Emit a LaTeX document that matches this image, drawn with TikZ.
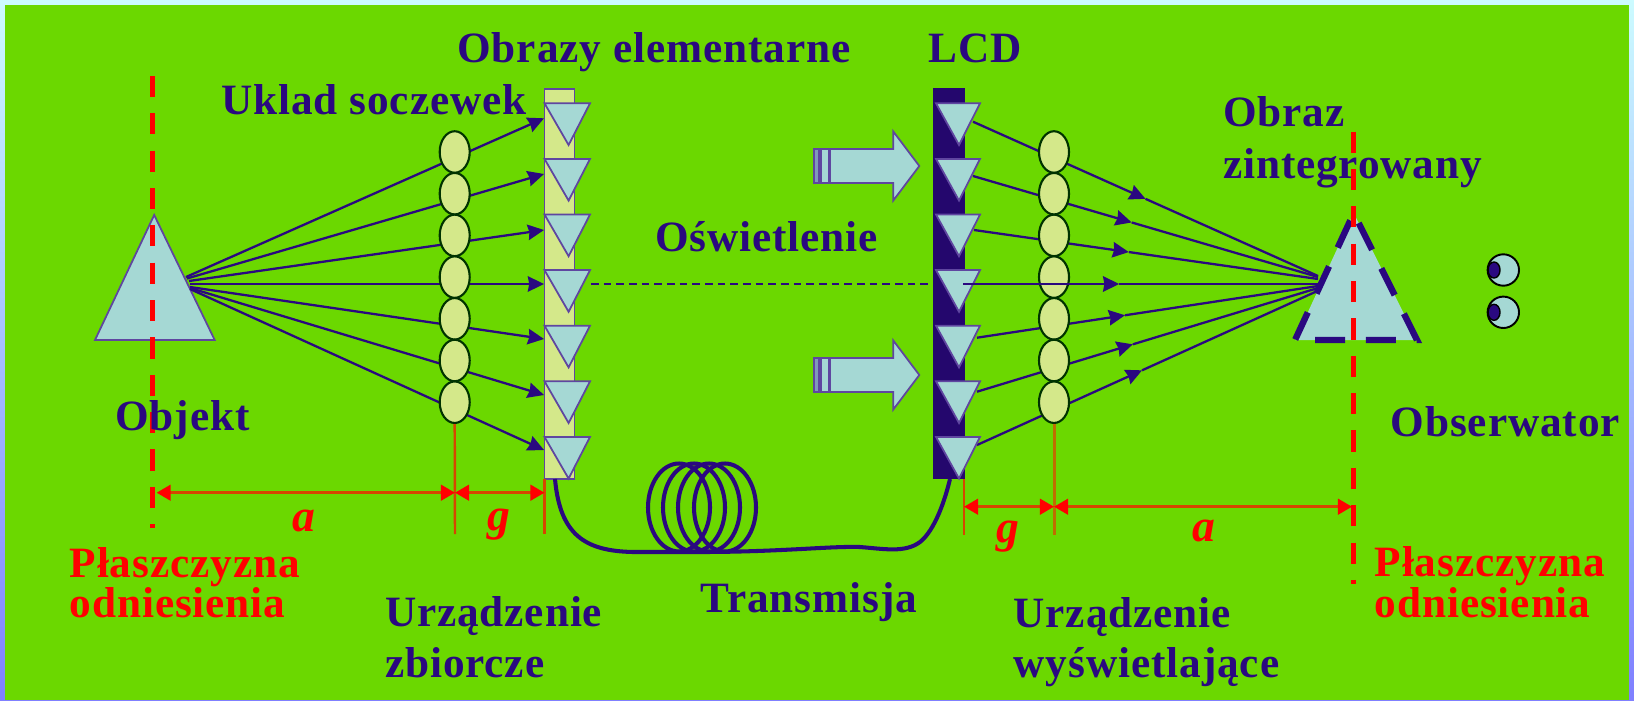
\documentclass[tikz,border=0pt]{standalone}
\usepackage{fontspec}
\setmainfont{Liberation Serif}
\usetikzlibrary{arrows.meta,shapes.geometric}
\definecolor{ink}{RGB}{42,8,128}
\definecolor{plate}{RGB}{107,216,0}
\definecolor{pale}{RGB}{165,216,212}
\definecolor{lime}{RGB}{212,232,138}
\definecolor{rule}{RGB}{214,70,0}
\definecolor{ochre}{RGB}{190,110,0}

\begin{document}
\begin{tikzpicture}[x=.01cm,y=-.01cm,line cap=butt,line join=miter,
    txt/.style={anchor=base west,inner sep=0pt,yshift=-.4pt,font=\fontsize{12.3}{14}\selectfont\bfseries\addfontfeature{LetterSpace=2.1},text=ink},
    redtxt/.style={txt,text=red},
    dimtxt/.style={redtxt,font=\fontsize{13}{15}\selectfont\bfseries\itshape},
    lens/.style={ellipse,draw=black!80!green,fill=lime,line width=.6pt,minimum width=.3cm,minimum height=.415cm,inner sep=0pt},
    ray/.style={draw=ink,line width=.65pt},
    head/.style={-{Stealth[length=4.6pt,width=4.4pt,inset=.4pt]}},
    sensor/.style={fill=pale,draw=ink!75,line width=.5pt},
    plane/.style={red,line width=1.45pt,dash pattern=on 6pt off 4.62pt},
    dim/.style={rule,line width=.85pt,{Triangle[length=4pt,width=4.4pt,red]}-{Triangle[length=4pt,width=4.4pt,red]}},
    tick/.style={rule,line width=.7pt}]
  \useasboundingbox (0,0) rectangle (1634,700);
  \shade[top color=blue!8!cyan!20!white,bottom color=blue!50!white] (0,0) rectangle (1634,700);
  \fill[plate] (5,5) rectangle (1629,700);

  \filldraw[sensor] (154.2,215) -- (214.7,340) -- (95,340) -- cycle;

  \foreach \i/\sx/\sy/\ty in {1/186/277/118.3,2/187/278.5/174,3/189/281/230,4/190/284/284,
      5/190/287/339,6/190/288/395,7/190/289/450}{
    \coordinate (srcA\i) at (\sx,\sy);
    \coordinate (tipA\i) at (544,\ty);
    \draw[ray,head] (srcA\i) -- (tipA\i);
  }
  \foreach \i/\sx/\sy/\ey/\p in {1/973/121.7/276/.5,2/973/176/277/.46,3/974/230/279/.45,
      5/977/337.7/286/.434,6/977/391.7/288/.457,7/977/445/290.7/.484}{
    \coordinate (srcB\i) at (\sx,\sy);
    \coordinate (endB\i) at (1318,\ey);
    \path (srcB\i) -- (endB\i) coordinate[pos=\p] (midB\i);
    \draw[ray,head] (srcB\i) -- (midB\i);
    \draw[ray] (midB\i) -- (endB\i);
  }

  \draw[sensor,fill=lime] (544.5,89) rectangle (574.5,479);
  \fill[ink!85!black] (933.3,88.3) rectangle (965,479.3);
  \foreach \i in {0,...,6}{
    \filldraw[sensor] (544.5,{103.3+55.6*\i}) -- ++(45.5,0) -- ++(-21.4,41.7) -- cycle;
    \filldraw[sensor] (936,{103.3+55.6*\i}) -- ++(44,0) -- ++(-21,41.7) -- cycle;
  }
  \foreach \i in {1,...,7}{
    \node[lens] (lensA\i) at (454.7,{152+41.7*(\i-1)}) {};
    \node[lens] (lensB\i) at (1054,{152+41.7*(\i-1)}) {};
  }
  \coordinate (srcB4) at (963,284);
  \coordinate (endB4) at (1318,284);
  \path (srcB4) -- (endB4) coordinate[pos=.44] (midB4);
  \draw[ray,head] (srcB4) -- (midB4);
  \draw[ray] (midB4) -- (endB4);
  \draw[ink,line width=.45pt,dash pattern=on 2.2pt off 1.4pt] (591,284) -- (931,284);

  \foreach \y in {166,375}{
    \filldraw[sensor] (830,{\y-17}) -- (893.3,{\y-17}) -- (893.3,{\y-34.5}) -- (919.3,\y)
      -- (893.3,{\y+34.5}) -- (893.3,{\y+17}) -- (830,{\y+17}) -- cycle;
    \filldraw[sensor,fill=pale!70!ink] (814.3,{\y-17}) rectangle (819.3,{\y+17});
    \filldraw[sensor] (820.7,{\y-17}) rectangle (828.7,{\y+17});
  }

  \draw[ink,line width=1.15pt] (555,479) .. controls (560,535) and (585,551) .. (633,552)
    -- (700,552) .. controls (780,552) and (830,546) .. (860,547)
    .. controls (885,549) and (905,553) .. (920,542) .. controls (935,530) and (945,500) .. (950,479);
  \foreach \x in {679,694,709,725}
    \draw[ink,line width=1.15pt] (\x,507.5) ellipse [x radius=31,y radius=44];

  \fill[pale] (1353.7,213) -- (1417,340) -- (1295,340) -- cycle;
  \draw[ink,line width=1.8pt,dash pattern=on 8.5pt off 5.9pt,dash phase=11.2pt] (1353.7,213) -- (1417,340) -- (1295,340) -- cycle;
  \draw[plane] (152.6,76) -- (152.6,528);
  \draw[plane] (1353.8,131.7) -- (1353.8,584);

  \foreach \y in {270,312.3}{
    \draw[black,fill=pale,line width=.55pt] (1503.3,\y) circle (15.7);
    \draw[black,fill=ink,line width=.4pt] (1494,\y) ellipse [x radius=6,y radius=8];
  }

  \draw[tick] (lensA7.south) -- (455,534);
  \draw[tick] (544.5,479) -- (544.5,534);
  \draw[tick] (964,479) -- (964,535);
  \draw[tick,ochre,line width=.85pt] (lensB7.south) -- (1054,535);
  \draw[dim] (156.6,492.7) -- (455,492.7);
  \draw[dim] (455,492.7) -- (544.5,492.7);
  \draw[dim] (964,506.7) -- (1054,506.7);
  \draw[dim] (1054,506.7) -- (1352,506.7);
  \node[dimtxt] (dimA) at (292,530) {a};
  \node[dimtxt] (dimG) at (487,529) {g};
  \node[dimtxt] (dimH) at (996,541) {g};
  \node[dimtxt] (dimB) at (1192,540) {a};

  \node[txt] (obrazy) at (456.7,61) {Obrazy elementarne};
  \node[txt] (uklad) at (220.6,112.7) {Uklad soczewek};
  \node[txt] (lcd) at (927.7,61) {LCD};
  \node[txt] (oswiet) at (654.4,250.5) {Oświetlenie};
  \node[txt] (objtxt) at (114.7,429) {Objekt};
  \node[redtxt] (plA) at (69,575.7) {Płaszczyzna};
  \node[redtxt] (odA) at (69,615.7) {odniesienia};
  \node[txt] (urzA) at (384.3,625) {Urządzenie};
  \node[txt] (zbi) at (384.3,676) {zbiorcze};
  \node[txt] (trans) at (700,610.7) {Transmisja};
  \node[txt] (urzB) at (1013,625.7) {Urządzenie};
  \node[txt] (wys) at (1013,676) {wyświetlające};
  \node[txt] (obr) at (1222.3,125) {Obraz};
  \node[txt] (zin) at (1222.3,176.7) {zintegrowany};
  \node[txt] (obs) at (1390,435) {Obserwator};
  \node[redtxt] (plB) at (1374,575) {Płaszczyzna};
  \node[redtxt] (odB) at (1374,616) {odniesienia};
\end{tikzpicture}
\end{document}
